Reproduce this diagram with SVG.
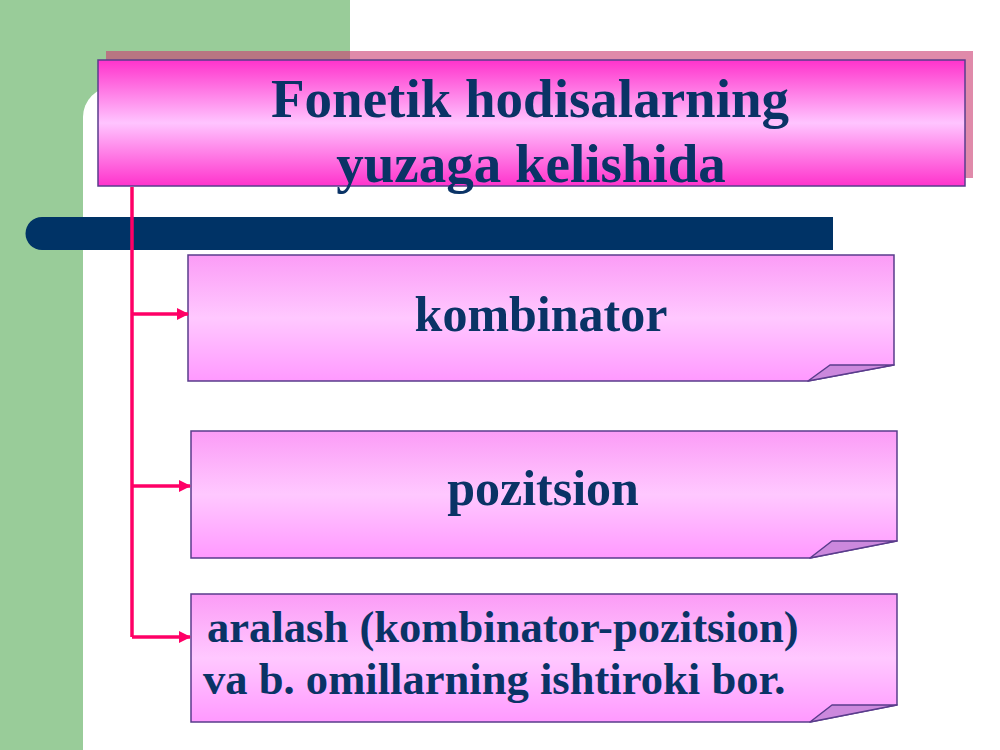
<svg xmlns="http://www.w3.org/2000/svg" width="1000" height="750" viewBox="0 0 1000 750">
<defs>
<linearGradient id="gTitle" x1="0" y1="0" x2="0" y2="1">
<stop offset="0" stop-color="#FF33CC"/>
<stop offset="0.5" stop-color="#FFC4FF"/>
<stop offset="1" stop-color="#FF33CC"/>
</linearGradient>
<linearGradient id="gBox" x1="0" y1="0" x2="0" y2="1">
<stop offset="0" stop-color="#FB9CF6"/>
<stop offset="0.5" stop-color="#FFC8FF"/>
<stop offset="1" stop-color="#FF99FF"/>
</linearGradient>
<marker id="arr" markerWidth="12" markerHeight="12" refX="11" refY="6" orient="auto" markerUnits="userSpaceOnUse">
<path d="M0,0 L12,6 L0,12 Z" fill="#FF0066"/>
</marker>
</defs>
<style>
.box{fill:url(#gBox);stroke:#5A3C8C;stroke-width:1.5}
.flap{fill:#CC88DD;stroke:#5A3C8C;stroke-width:1.5;stroke-linejoin:round}
.txt{font-family:"Liberation Serif","Times New Roman",serif;font-weight:bold;fill:#0A3366}
.conn{stroke:#FF0066;stroke-width:3.5;fill:none}
</style>
<rect x="0" y="0" width="1000" height="750" fill="#FFFFFF"/>
<rect x="0" y="0" width="350" height="750" fill="#99CC99"/>
<path d="M83,750 V117 A30,30 0 0 1 113,87 H1000 V750 Z" fill="#FFFFFF"/>
<g id="title">
<rect x="106" y="51" width="867" height="127" fill="#CC3F74" fill-opacity="0.61"/>
<rect x="98" y="60" width="867" height="126" fill="url(#gTitle)" stroke="#5A3C8C" stroke-width="1.5"/>
<text class="txt" x="530" y="117" font-size="55" text-anchor="middle">Fonetik hodisalarning</text>
<text class="txt" x="531" y="182" font-size="55" text-anchor="middle">yuzaga kelishida</text>
</g>
<path id="bar" d="M42,217 H833 V250 H42 A16.5,16.5 0 0 1 42,217 Z" fill="#003366"/>
<g id="box1">
<path class="box" d="M188,255 H894 V365 L808,381 H188 Z"/>
<path class="flap" d="M808,381 L830,365 L894,365 Z"/>
<text class="txt" x="541" y="331" font-size="50" text-anchor="middle">kombinator</text>
</g>
<g id="box2">
<path class="box" d="M191,431 H897 V541 L810,558 H191 Z"/>
<path class="flap" d="M810,558 L832,541 L897,541 Z"/>
<text class="txt" x="543" y="505" font-size="50" text-anchor="middle">pozitsion</text>
</g>
<g id="box3">
<path class="box" d="M191,594 H897 V705 L810,722 H191 Z"/>
<path class="flap" d="M810,722 L832,705 L897,705 Z"/>
<text class="txt" x="207" y="642" font-size="44.6">aralash (kombinator-pozitsion)</text>
<text class="txt" x="203" y="694" font-size="44.6">va b. omillarning ishtiroki bor.</text>
</g>
<g id="connectors">
<path class="conn" d="M132,187 V637"/>
<path class="conn" d="M132,314 H188" marker-end="url(#arr)"/>
<path class="conn" d="M132,486 H190" marker-end="url(#arr)"/>
<path class="conn" d="M132,637 H190" marker-end="url(#arr)"/>
</g>
</svg>
